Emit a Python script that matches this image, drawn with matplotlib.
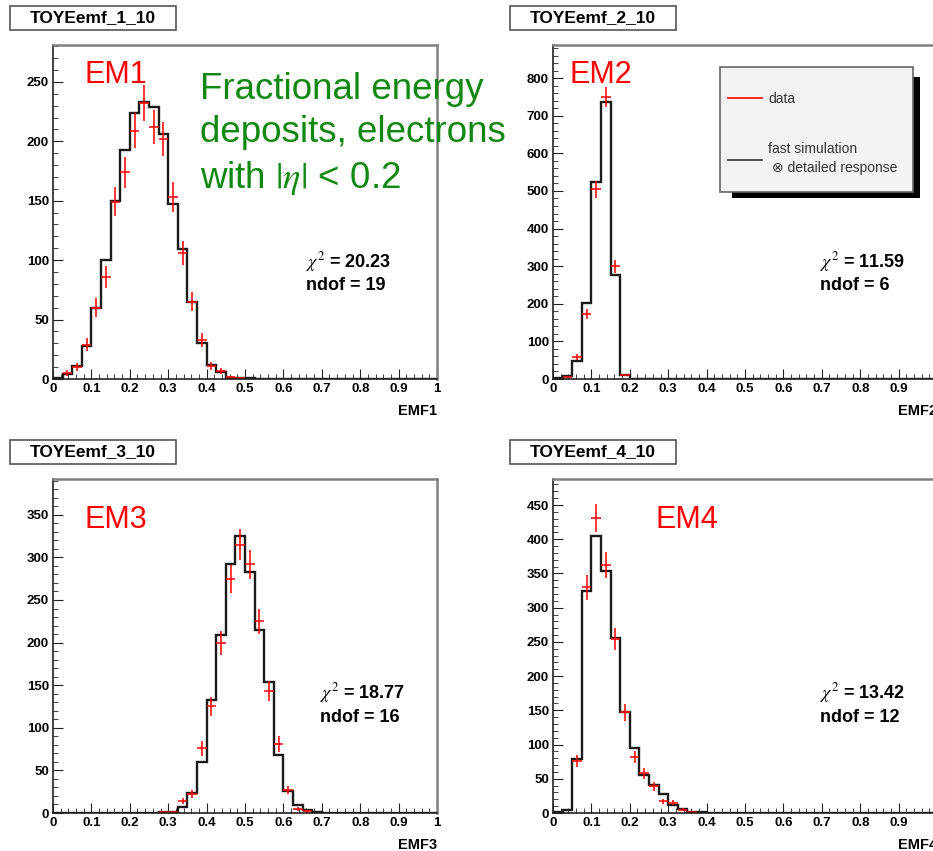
import numpy as np
import matplotlib
matplotlib.use("Agg")
import matplotlib.pyplot as plt
from matplotlib.patches import Rectangle
from matplotlib.ticker import MultipleLocator

plt.rcParams['font.family'] = ['Liberation Sans', 'DejaVu Sans']
plt.rcParams['mathtext.fontset'] = 'stix'

# 40 bins of width 0.025 from 0 to 1
edges = np.linspace(0, 1, 41)
centers = 0.5 * (edges[:-1] + edges[1:])

def pad40(vals, start=0):
    out = np.zeros(40)
    out[start:start + len(vals)] = vals
    return out

# fast simulation (black histograms)
em1_sim = pad40([1, 4, 10.6, 28, 60, 100, 150, 193, 224, 233, 229, 206, 147, 109, 65, 30, 12, 6, 1, 1, 0.5])
em2_sim = pad40([2, 7, 47, 203, 525, 737, 277, 11])
em3_sim = pad40([1, 1, 7, 23, 60, 133, 209, 292, 325, 283, 215, 154, 68, 26, 9, 3, 1], start=11)
em4_sim = pad40([1, 4, 79, 324, 405, 353, 255, 148, 95, 56, 41, 28, 12, 6, 2, 1])

# data (red points, sqrt(N) errors)
em1_data = pad40([0, 5, 10, 29, 60, 86, 149, 174, 209, 232, 212, 202, 153, 106, 65, 33, 11, 7, 1.5, 1])
em2_data = pad40([0, 5, 58, 173, 505, 750, 300, 10])
em3_data = pad40([1, 1, 14, 22, 76, 125, 200, 275, 315, 292, 225, 143, 81, 27, 5, 2], start=11)
em4_data = pad40([0, 0, 76, 330, 431, 362, 254, 147, 82, 58, 39, 17, 15, 5, 1])

titles = ['TOYEemf_1_10', 'TOYEemf_2_10', 'TOYEemf_3_10', 'TOYEemf_4_10']
labels = ['EM1', 'EM2', 'EM3', 'EM4']
xlabels = ['EMF1', 'EMF2', 'EMF3', 'EMF4']
chi2 = ['20.23', '11.59', '18.77', '13.42']
ndof = ['19', '6', '16', '12']
ymax = [281, 888, 392, 488]
ymajor = [50, 100, 50, 50]
yminor = [10, 20, 10, 10]

sims = [em1_sim, em2_sim, em3_sim, em4_sim]
datas = [em1_data, em2_data, em3_data, em4_data]

W, H = 933, 851
fig = plt.figure(figsize=(W / 100, H / 100), dpi=100)

def fx(px):
    return px / W

def fy(py):
    return 1 - py / H

# axes frames in pixels: left, top
frames = [(53, 45), (553, 45), (53, 479), (553, 479)]
aw, ah = 384, 334
title_boxes = [(10, 6), (510, 6), (10, 440), (510, 440)]
em_pos = [(0.083, 0.91), (0.044, 0.91), (0.083, 0.877), (0.266, 0.877)]
chi_pos = [(0.659, 0.35, 0.281), (0.695, 0.35, 0.281), (0.695, 0.359, 0.287), (0.695, 0.359, 0.287)]

for i in range(4):
    l, t = frames[i]
    ax = fig.add_axes([fx(l), fy(t + ah), aw / W, ah / H])
    ax.stairs(sims[i], edges, color='#1a1a1a', lw=1.7)
    m = datas[i] > 0
    ax.errorbar(centers[m], datas[i][m], xerr=0.0125, yerr=np.sqrt(datas[i][m]),
                fmt='none', ecolor='red', elinewidth=1.1, capsize=0)
    ax.set_xlim(0, 1)
    ax.set_ylim(0, ymax[i])
    ax.xaxis.set_major_locator(MultipleLocator(0.1))
    ax.xaxis.set_minor_locator(MultipleLocator(0.02))
    ax.yaxis.set_major_locator(MultipleLocator(ymajor[i]))
    ax.yaxis.set_minor_locator(MultipleLocator(yminor[i]))
    ax.xaxis.set_major_formatter(plt.FuncFormatter(lambda v, p: ('%g' % round(v, 2))))
    ax.tick_params(which='both', direction='in', top=False, right=False, labelsize=9.5, pad=3, color='#222')
    ax.tick_params(which='major', length=7)
    ax.tick_params(which='minor', length=3.5)
    for lab in ax.get_xticklabels() + ax.get_yticklabels():
        lab.set_fontweight('bold')
    for s in ['top', 'right']:
        ax.spines[s].set_color('#808080')
        ax.spines[s].set_linewidth(1.8)
    for s in ['left', 'bottom']:
        ax.spines[s].set_color('#222')
        ax.spines[s].set_linewidth(1.2)
    ax.text(1.0, -0.096, xlabels[i], transform=ax.transAxes, ha='right', va='center',
            fontsize=10.5, fontweight='bold')
    ax.text(em_pos[i][0], em_pos[i][1], labels[i], transform=ax.transAxes, color='red',
            fontsize=22, ha='left', va='center')
    cx, cy1, cy2 = chi_pos[i]
    ax.text(cx, cy1, r'$\chi^2$' + ' = ' + chi2[i], transform=ax.transAxes, fontsize=13,
            fontweight='bold', ha='left', va='center')
    ax.text(cx, cy2, 'ndof = ' + ndof[i], transform=ax.transAxes, fontsize=13,
            fontweight='bold', ha='left', va='center')

    bx, by = title_boxes[i]
    fig.patches.append(Rectangle((fx(bx), fy(by + 24)), 166 / W, 24 / H, transform=fig.transFigure,
                                 fc='white', ec='#555', lw=1.2))
    fig.text(fx(bx + 83), fy(by + 12), titles[i], ha='center', va='center', fontsize=12.5,
             fontweight='bold')

# annotation
fig.text(fx(200), fy(72), 'Fractional energy\ndeposits, electrons\nwith $|\\eta|$ < 0.2',
         color='#118811', fontsize=26.5, ha='left', va='top', linespacing=1.3)

# legend with shadow
fig.patches.append(Rectangle((fx(732), fy(198)), 188 / W, 121 / H, transform=fig.transFigure,
                             fc='black', ec='black', lw=0))
fig.patches.append(Rectangle((fx(720), fy(192)), 193 / W, 125 / H, transform=fig.transFigure,
                             fc='#f2f2f2', ec='#666', lw=1.2))
fig.add_artist(plt.Line2D([fx(728), fx(762)], [fy(98), fy(98)], color='red', lw=1.2))
fig.text(fx(768), fy(99), 'data', fontsize=10, color='#333', ha='left', va='center')
fig.add_artist(plt.Line2D([fx(728), fx(762)], [fy(160), fy(160)], color='#333', lw=1.2))
fig.text(fx(768), fy(149), 'fast simulation', fontsize=10, color='#333', ha='left', va='center')
fig.text(fx(772), fy(168), '\u2297 detailed response', fontsize=10, color='#333', ha='left', va='center')

fig.savefig('out.png', dpi=100)
